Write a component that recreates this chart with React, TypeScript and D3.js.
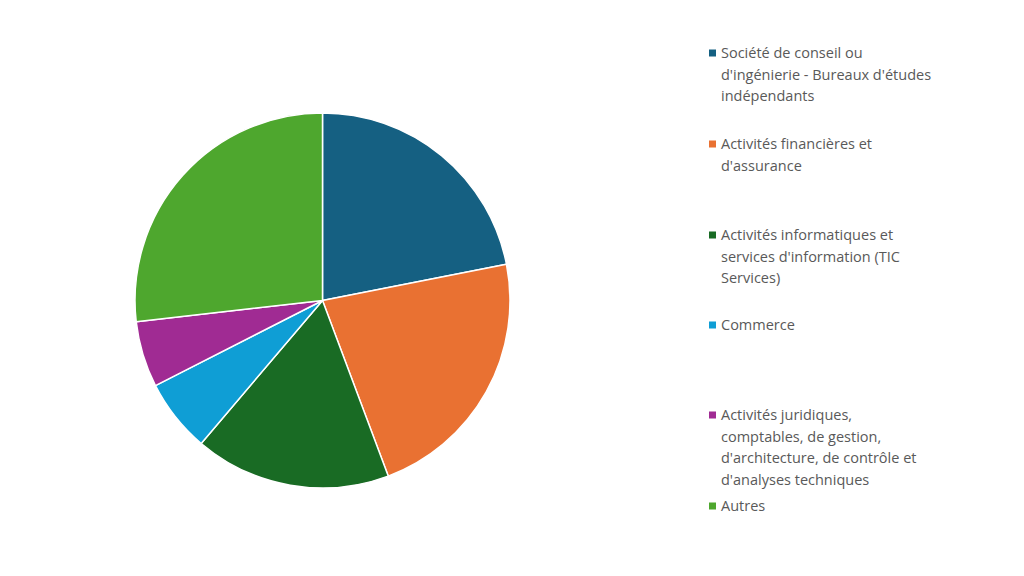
import React from "react";
import * as d3 from "d3";

const categories = [
  "Société de conseil ou d'ingénierie - Bureaux d'études indépendants",
  "Activités financières et d'assurance",
  "Activités informatiques et services d'information (TIC Services)",
  "Commerce",
  "Activités juridiques, comptables, de gestion, d'architecture, de contrôle et d'analyses techniques",
  "Autres",
];
const values = [21.9, 22.4, 16.9, 6.3, 5.7, 26.8];
const colors = ["#156082", "#E97132", "#196B24", "#0F9ED5", "#A02B93", "#4EA72E"];
const legendLines = [
  ["Société de conseil ou", "d'ingénierie - Bureaux d'études", "indépendants"],
  ["Activités financières et", "d'assurance"],
  ["Activités informatiques et", "services d'information (TIC", "Services)"],
  ["Commerce"],
  ["Activités juridiques,", "comptables, de gestion,", "d'architecture, de contrôle et", "d'analyses techniques"],
  ["Autres"],
];
const legendTop = [53, 144, 235, 325, 415, 506];

export default function App() {
  const W = 1024, H = 576;
  const cx = 322.5, cy = 300.5, r = 187.5;
  const pie = d3.pie<number>().sort(null).value((d) => d)(values);
  const arc = d3.arc<d3.PieArcDatum<number>>().innerRadius(0).outerRadius(r);
  const lineH = 21.5;
  return (
    <svg width={W} height={H} style={{ position: "absolute", left: 0, top: 0, background: "#fff" }}
      fontFamily="'Open Sans', sans-serif">
      <g transform={`translate(${cx},${cy})`}>
        {pie.map((p, i) => (
          <path key={i} d={arc(p) || ""} fill={colors[i]} stroke="#fff" strokeWidth={1.5} strokeLinejoin="round" />
        ))}
      </g>
      {legendLines.map((lines, i) => (
        <g key={i}>
          <rect x={709} y={legendTop[i] - 3.5} width={7} height={7} fill={colors[i]} />
          {lines.map((t, j) => (
            <text key={j} x={721} y={legendTop[i] + j * lineH} dy="0.35em" fontSize={14.5} fill="#595959">
              {t}
            </text>
          ))}
        </g>
      ))}
    </svg>
  );
}
